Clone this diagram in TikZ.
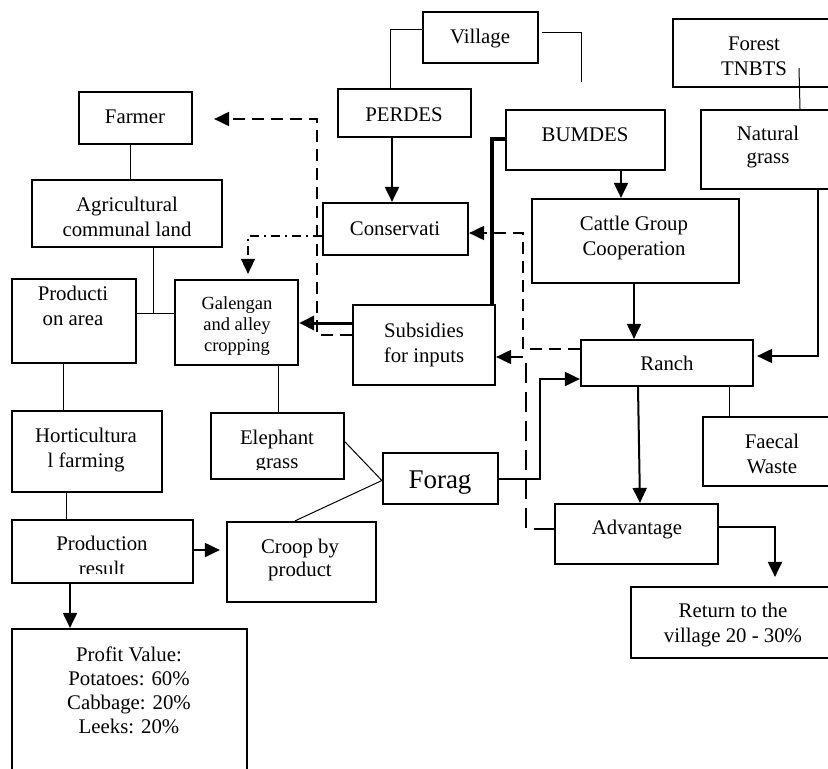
\documentclass[tikz,border=0pt]{standalone}
\usepackage{fontspec}
\setmainfont{Liberation Serif}
\usetikzlibrary{arrows.meta,fit}
\begin{document}
\begin{tikzpicture}[x=1pt,y=-1pt,
  box/.style={draw, line width=2.2pt, inner sep=0pt, rectangle},
  txt/.style={inner sep=0pt, align=center, anchor=base, font=\fontsize{20.8pt}{24.5pt}\selectfont},
  thinln/.style={line width=1pt},
  tip/.style={-{Triangle[length=15pt,width=14pt]}},
  arr/.style={line width=2pt, tip},
  dashln/.style={line width=2pt, dash pattern=on 12pt off 7pt, tip},
  ldashln/.style={line width=2pt, dash pattern=on 20pt off 9pt, tip},
  ddln/.style={line width=1.6pt, dash pattern=on 9pt off 5pt on 2pt off 5pt, tip},
  thickln/.style={line width=3.5pt},
  thickarr/.style={line width=3pt, tip},
]
\useasboundingbox (0,0) rectangle (828,769);
\clip (0,0) rectangle (828,769);

% boxes
\node[box, fit={(423,12) (538,63)}] (village) {};
\node[box, fit={(338,89) (471,137)}] (perdes) {};
\node[box, fit={(506,110) (665,170)}] (bumdes) {};
\node[box, fit={(673,19) (845,87)}] (forest) {};
\node[box, fit={(701,110) (845,189)}] (natural) {};
\node[box, fit={(79,92) (192,144)}] (farmer) {};
\node[box, fit={(32,180) (222,247)}] (agri) {};
\node[box, fit={(323,203) (468,255)}] (conserv) {};
\node[box, fit={(532,199) (739,283)}] (cattle) {};
\node[box, fit={(12,279) (136,363)}] (prod) {};
\node[box, fit={(175,280) (298,365)}] (galen) {};
\node[box, fit={(353,305) (495,385)}] (subs) {};
\node[box, fit={(581,340) (753,386)}] (ranch) {};
\node[box, fit={(12,411) (162,492)}] (horti) {};
\node[box, fit={(211,413) (344,479)}] (eleph) {};
\node[box, fit={(383,453) (498,504)}] (forag) {};
\node[box, fit={(703,417) (845,486)}] (faecal) {};
\node[box, fit={(555,504) (718,564)}] (adv) {};
\node[box, fit={(12,520) (193,583)}] (prodres) {};
\node[box, fit={(227,522) (376,602)}] (croop) {};
\node[box, fit={(631,587) (832,658)}] (ret) {};
\node[box, fit={(12,629) (247,800)}] (profit) {};

% texts (anchor base = baseline of the last line)
\node[txt] (villageT) at (480,43) {Village};
\node[txt] (perdesT) at (404,121) {PERDES};
\node[txt] (bumdesT) at (585,141) {BUMDES};
\node[txt] (forestT) at (754,75) {Forest\\TNBTS};
\node[txt, font=\fontsize{20.8pt}{23pt}\selectfont] (naturalT) at (768,163) {Natural\\grass};
\node[txt] (farmerT) at (135,123) {Farmer};
\node[txt] (agriT) at (127,236) {Agricultural\\communal land};
\node[txt] (conservT) at (395,235) {Conservati};
\node[txt] (cattleT) at (634,255) {Cattle Group\\Cooperation};
\node[txt] (prodT) at (73,325) {Producti\\on area};
\begin{scope}
\clip (176,281) rectangle (297,356);
\node[txt, font=\fontsize{18.5pt}{21pt}\selectfont] (galenT) at (237,351) {Galengan\\and alley\\cropping};
\end{scope}
\node[txt] (subsT) at (424,362) {Subsidies\\for inputs};
\node[txt] (ranchT) at (667,370) {Ranch};
\node[txt] (hortiT) at (86,467) {Horticultura\\l farming};
\begin{scope}
\clip (212,414) rectangle (343,469);
\node[txt, font=\fontsize{20.8pt}{24pt}\selectfont] (elephT) at (277,468) {Elephant\\grass};
\end{scope}
\node[txt, font=\fontsize{27pt}{30pt}\selectfont] (foragT) at (440,488) {Forag};
\node[txt] (faecalT) at (772,473) {Faecal\\Waste};
\node[txt] (advT) at (637,534) {Advantage};
\begin{scope}
\clip (13,521) rectangle (192,573);
\node[txt] (prodresT) at (102,575) {Production\\result};
\end{scope}
\node[txt, font=\fontsize{20.8pt}{23pt}\selectfont] (croopT) at (300,576) {Croop by\\product};
\node[txt] (retT) at (733,642) {Return to the\\village 20 - 30\%};
\node[txt, font=\fontsize{20.8pt}{24pt}\selectfont] (profitT) at (129,733) {Profit Value:\\Potatoes: 60\%\\Cabbage: 20\%\\Leeks: 20\%};

% connectors
\draw[thinln] (village.west |- 0,29) -| (perdes.north -| 390,0);
\coordinate (vR) at (581,82);
\draw[thinln] ([xshift=3pt]village.east |- 0,32) -| (vR);
\draw[arr] (perdes.south -| 392,0) -- (conserv.north -| 392,0);
\draw[arr] (bumdes.south -| 621,0) -- (cattle.north -| 621,0);
\draw[thickln] (bumdes.west |- 0,139) -| (subs.north -| 492,0);
\draw[dashln] (ranch.west |- 0,349) -| (523,233) -- (conserv.east |- 0,233);
\draw[ldashln] (adv.west |- 0,529) -| (526,357) -- (subs.east |- 0,357);
\draw[dashln] (subs.west |- 0,335) -| (317,119) -- ([xshift=21pt]farmer.east |- 0,119);
\draw[thickarr] (subs.west |- 0,323) -- (galen.east |- 0,323);
\draw[ddln, shorten >=5pt] (conserv.west |- 0,236) -| (galen.north -| 248,0);
\draw[thinln] (farmer.south -| 130,0) -- (agri.north -| 130,0);
\coordinate (tj) at (153,313);
\draw[thinln] (agri.south -| tj) -- (tj);
\draw[thinln] (prod.east |- tj) -- (galen.west |- tj);
\draw[thinln] (prod.south -| 63,0) -- (horti.north -| 63,0);
\draw[thinln] (horti.south -| 66,0) -- (prodres.north -| 66,0);
\draw[arr, shorten >=6pt] (prodres.east |- 0,550) -- (croop.west |- 0,550);
\draw[arr] (prodres.south -| 70,0) -- (profit.north -| 70,0);
\draw[thinln] (galen.south -| 278,0) -- (eleph.north -| 278,0);
\draw[thinln] ([yshift=4pt]eleph.east) -- ([yshift=-2pt]forag.west);
\draw[thinln] (croop.north -| 295,0) -- ([yshift=-2pt]forag.west);
\draw[arr] (forag.east |- 0,479) -| (540,379) -- (ranch.west |- 0,379);
\draw[arr] (cattle.south -| 634,0) -- (ranch.north -| 634,0);
\draw[arr, shorten >=3pt] (natural.south -| 818,0) |- (ranch.east |- 0,356);
\draw[thinln] (799,68) -- (natural.north -| 800,0);
\draw[arr] (ranch.south -| 638,0) -- (adv.north -| 640,0);
\draw[thinln] (ranch.south -| 729,0) -- (faecal.north -| 729,0);
\draw[arr, shorten >=9pt] (adv.east |- 0,527) -| (ret.north -| 775,0);
\end{tikzpicture}
\end{document}
